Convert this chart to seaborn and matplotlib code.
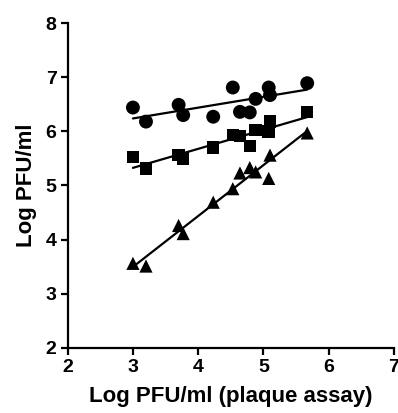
import matplotlib
matplotlib.use("Agg")
import matplotlib.pyplot as plt
import seaborn as sns
import pandas as pd

x_plaque = [3.0, 3.2, 3.7, 3.77, 4.23, 4.53, 4.64, 4.79, 4.88, 5.08, 5.10, 5.67]
circles = [6.44, 6.18, 6.49, 6.30, 6.27, 6.81, 6.36, 6.35, 6.60, 6.81, 6.67, 6.89]
squares = [5.53, 5.31, 5.56, 5.50, 5.70, 5.93, 5.91, 5.73, 6.02, 6.00, 6.18, 6.36]
triangles = [3.56, 3.51, 4.26, 4.11, 4.69, 4.94, 5.23, 5.33, 5.25, 5.13, 5.56, 5.97]

sns.set_style("ticks", {'axes.edgecolor': 'black', 'xtick.color': 'black',
                        'ytick.color': 'black', 'text.color': 'black',
                        'axes.labelcolor': 'black'})
plt.rcParams['font.family'] = ['Liberation Sans', 'DejaVu Sans']
plt.rcParams['font.weight'] = 'bold'

fig = plt.figure(figsize=(3.98, 4.13), dpi=100)
ax = fig.add_axes([0.170, 0.158, 0.820, 0.786])

series = [(circles, 'o', 100), (squares, 's', 80), (triangles, '^', 90)]
for vals, mk, s in series:
    df = pd.DataFrame({'x': x_plaque, 'y': vals})
    sns.regplot(data=df, x='x', y='y', ax=ax, ci=None, marker=mk, color='black',
                scatter_kws={'s': s, 'edgecolor': 'none', 'alpha': 1},
                line_kws={'lw': 1.6, 'color': 'black'})

ax.set_xlim(2, 7)
ax.set_ylim(2, 8)
ax.set_xticks([2, 3, 4, 5, 6, 7])
ax.set_yticks([2, 3, 4, 5, 6, 7, 8])
ax.tick_params(axis='both', labelsize=14, width=1.6, length=5, direction='out',
               pad=3, colors='black')
for lab in ax.get_xticklabels() + ax.get_yticklabels():
    lab.set_fontweight('bold')
ax.set_xlabel('Log PFU/ml (plaque assay)', fontsize=16, fontweight='bold',
              labelpad=7, color='black')
ax.set_ylabel('Log PFU/ml', fontsize=16, fontweight='bold', labelpad=6,
              color='black')
for sp in ['top', 'right']:
    ax.spines[sp].set_visible(False)
for sp in ['left', 'bottom']:
    ax.spines[sp].set_linewidth(1.6)
    ax.spines[sp].set_color('black')

fig.savefig('out.png', dpi=100)
